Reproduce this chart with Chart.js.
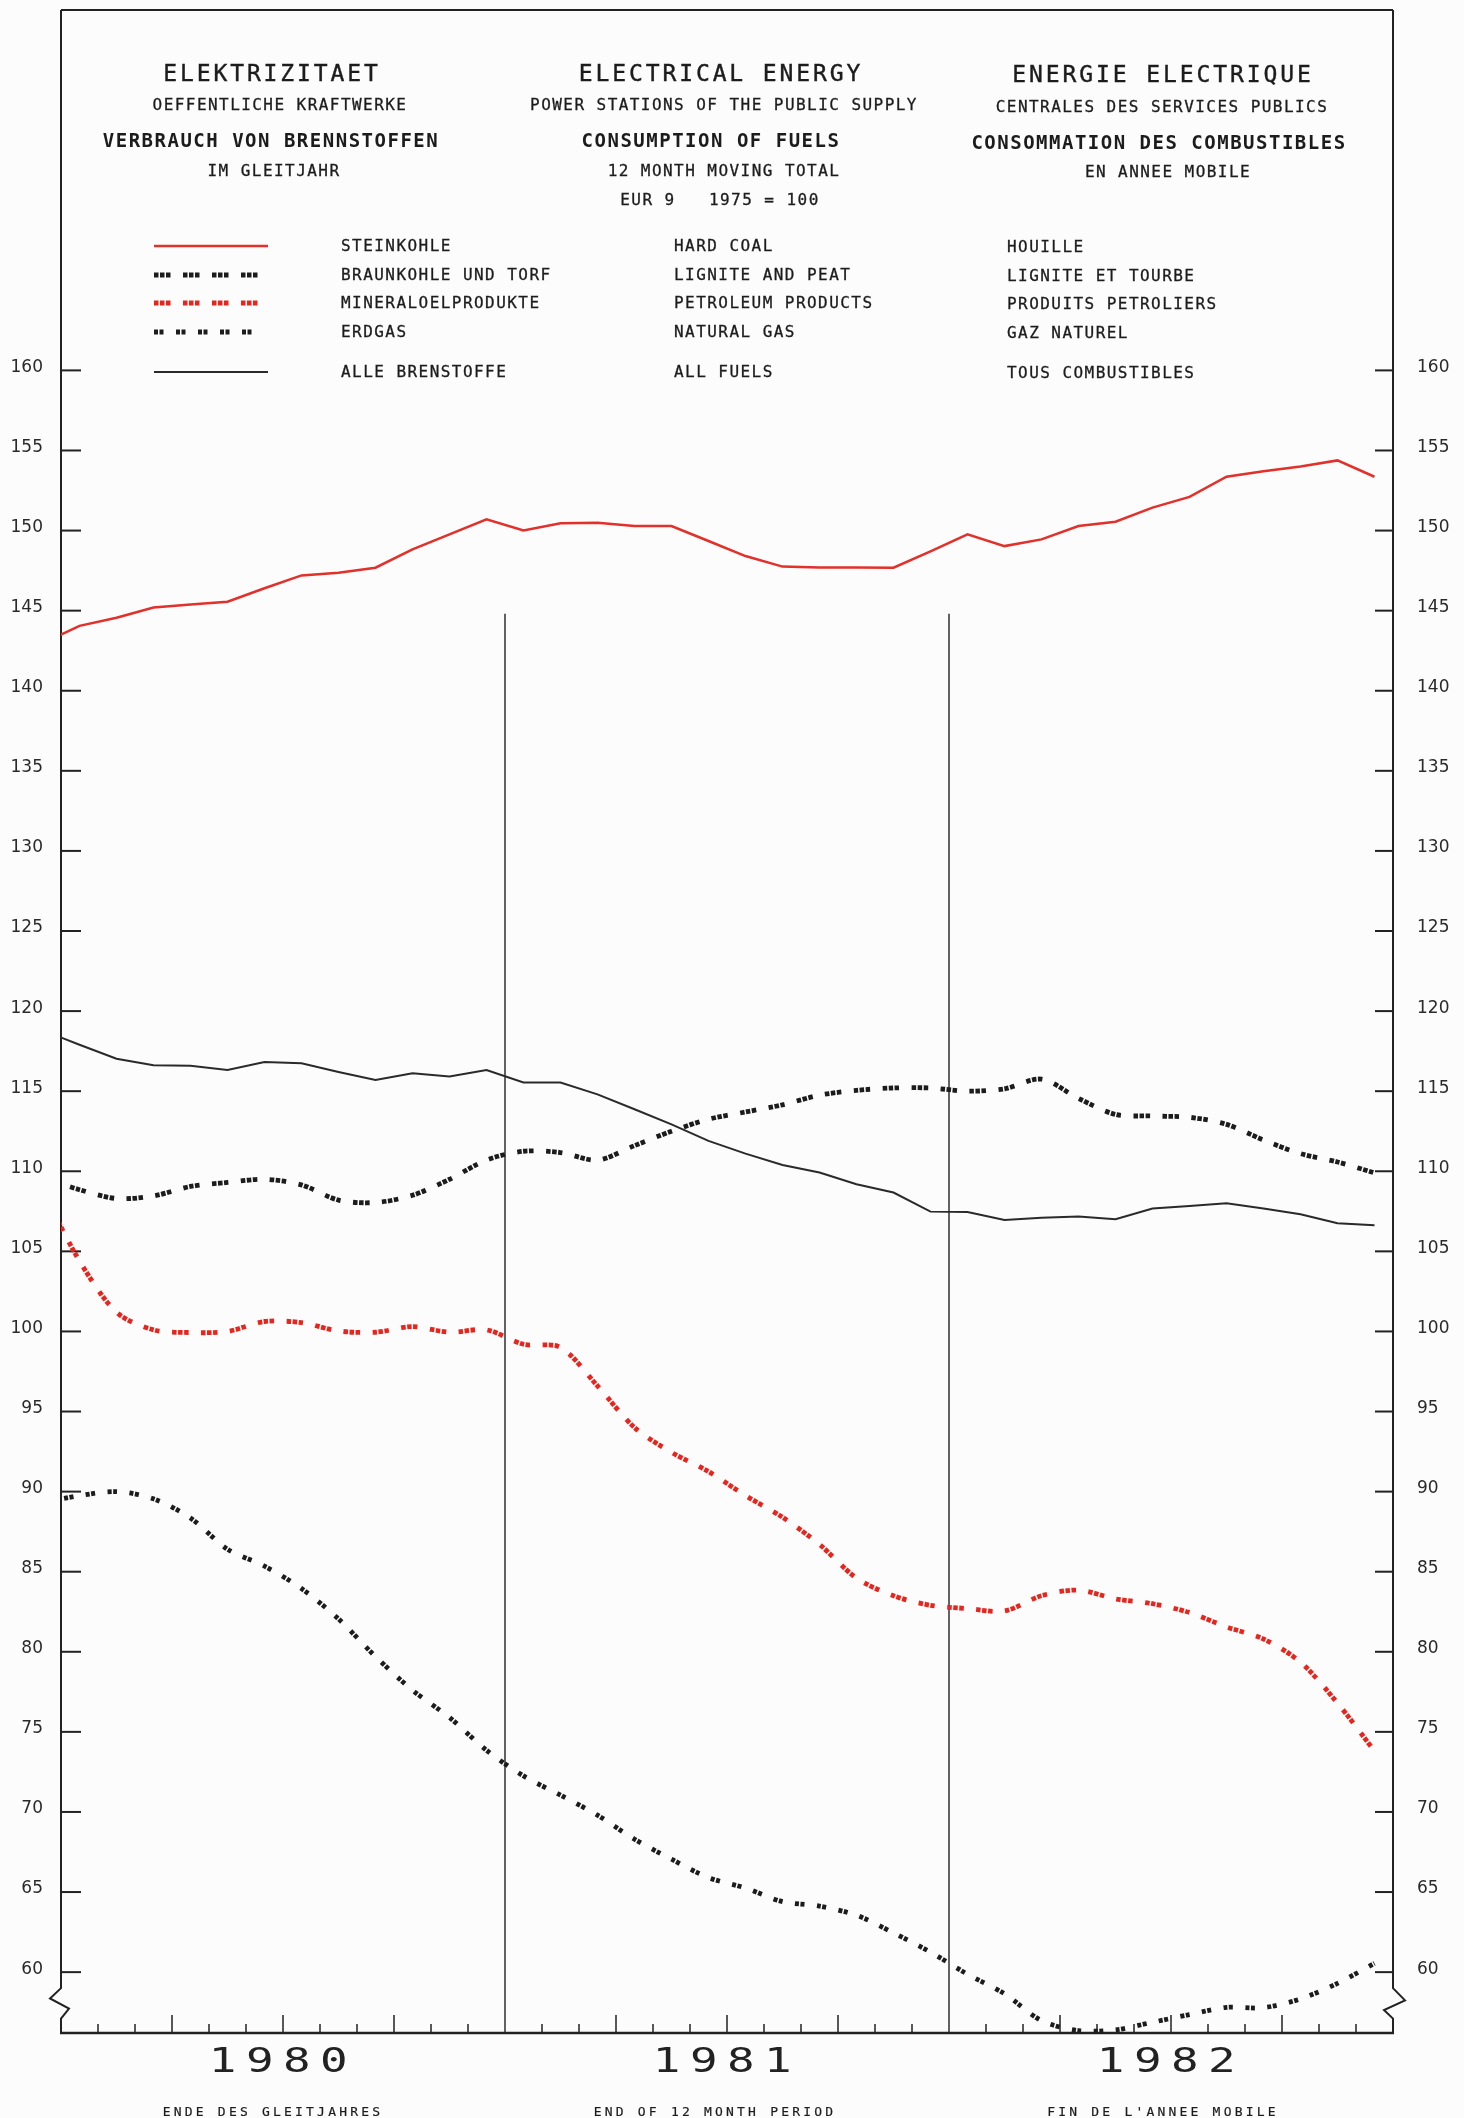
<!DOCTYPE html>
<html>
<head>
<meta charset="utf-8">
<script src="https://cdn.jsdelivr.net/npm/chart.js@4.4.1/dist/chart.umd.min.js"></script>
<style>
  html,body{margin:0;padding:0;background:#fcfcfc;}
  #wrap{position:relative;width:1464px;height:2118px;overflow:hidden;}
  canvas{position:absolute;left:0;top:0;}
  .t{position:absolute;white-space:pre;font-family:'DejaVu Sans Mono',monospace;color:#1c1c1c;line-height:1;transform:translate(-50%,-50%);}
  .l{transform:translate(0,-50%);}
  .s16{font-size:16px;letter-spacing:1.45px;-webkit-text-stroke:0.3px #1c1c1c;}
  .s23{font-size:23px;letter-spacing:2.9px;-webkit-text-stroke:0.4px #1c1c1c;}
  .b19{font-size:19px;font-weight:bold;letter-spacing:1.5px;}
  .s11{font-size:13px;letter-spacing:3.2px;-webkit-text-stroke:0.2px #1c1c1c;}
  .yr{font-size:34px;letter-spacing:7px;transform:translate(-50%,-50%) scaleX(1.35);color:#222;}
</style>
</head>
<body>
<div id="wrap">
<canvas id="c" width="1464" height="2118"></canvas>

<div class="t s23" style="left:272px;top:73px">ELEKTRIZITAET</div>
<div class="t s23" style="left:721px;top:73px">ELECTRICAL ENERGY</div>
<div class="t s23" style="left:1163px;top:74px">ENERGIE ELECTRIQUE</div>

<div class="t s16" style="left:280px;top:105px">OEFFENTLICHE KRAFTWERKE</div>
<div class="t s16" style="left:724px;top:105px">POWER STATIONS OF THE PUBLIC SUPPLY</div>
<div class="t s16" style="left:1162px;top:107px">CENTRALES DES SERVICES PUBLICS</div>

<div class="t b19" style="left:271px;top:140px">VERBRAUCH VON BRENNSTOFFEN</div>
<div class="t b19" style="left:711px;top:140px">CONSUMPTION OF FUELS</div>
<div class="t b19" style="left:1159px;top:142px">CONSOMMATION DES COMBUSTIBLES</div>

<div class="t s16" style="left:274px;top:171px">IM GLEITJAHR</div>
<div class="t s16" style="left:724px;top:171px">12 MONTH MOVING TOTAL</div>
<div class="t s16" style="left:1168px;top:172px">EN ANNEE MOBILE</div>

<div class="t s16" style="left:720px;top:200px">EUR 9   1975 = 100</div>

<div class="t s16 l" style="left:341px;top:246px">STEINKOHLE</div>
<div class="t s16 l" style="left:674px;top:246px">HARD COAL</div>
<div class="t s16 l" style="left:1007px;top:247px">HOUILLE</div>

<div class="t s16 l" style="left:341px;top:275px">BRAUNKOHLE UND TORF</div>
<div class="t s16 l" style="left:674px;top:275px">LIGNITE AND PEAT</div>
<div class="t s16 l" style="left:1007px;top:276px">LIGNITE ET TOURBE</div>

<div class="t s16 l" style="left:341px;top:303px">MINERALOELPRODUKTE</div>
<div class="t s16 l" style="left:674px;top:303px">PETROLEUM PRODUCTS</div>
<div class="t s16 l" style="left:1007px;top:304px">PRODUITS PETROLIERS</div>

<div class="t s16 l" style="left:341px;top:332px">ERDGAS</div>
<div class="t s16 l" style="left:674px;top:332px">NATURAL GAS</div>
<div class="t s16 l" style="left:1007px;top:333px">GAZ NATUREL</div>

<div class="t s16 l" style="left:341px;top:372px">ALLE BRENSTOFFE</div>
<div class="t s16 l" style="left:674px;top:372px">ALL FUELS</div>
<div class="t s16 l" style="left:1007px;top:373px">TOUS COMBUSTIBLES</div>

<div class="t s11" style="left:273px;top:2111px">ENDE DES GLEITJAHRES</div>
<div class="t s11" style="left:715px;top:2111px">END OF 12 MONTH PERIOD</div>
<div class="t s11" style="left:1163px;top:2111px">FIN DE L'ANNEE MOBILE</div>
</div>

<script>
// ---------------- DATA ----------------
// index 0 = Dec 1979 (partly outside the frame), then Jan 1980 ... Dec 1982
const months = [
  '1979-12',
  '1980-01','1980-02','1980-03','1980-04','1980-05','1980-06','1980-07','1980-08','1980-09','1980-10','1980-11','1980-12',
  '1981-01','1981-02','1981-03','1981-04','1981-05','1981-06','1981-07','1981-08','1981-09','1981-10','1981-11','1981-12',
  '1982-01','1982-02','1982-03','1982-04','1982-05','1982-06','1982-07','1982-08','1982-09','1982-10','1982-11','1982-12'
];
const years = ['1980', '1981', '1982'];

const hardCoal = [142.95,
  144.05,144.56,145.2,145.38,145.56,146.4,147.2,147.37,147.68,148.83,149.76,150.7,
  150.01,150.45,150.49,150.28,150.28,149.35,148.41,147.75,147.7,147.7,147.68,148.7,
  149.76,149.03,149.45,150.28,150.55,151.43,152.1,153.36,153.7,154.0,154.38,153.36];

const lignite = [109.6,
  108.85,108.3,108.46,109.05,109.3,109.5,109.15,108.2,108.05,108.5,109.5,110.7,
  111.25,111.17,110.7,111.6,112.5,113.25,113.7,114.15,114.75,115.05,115.2,115.2,
  115.0,115.15,115.75,114.55,113.55,113.45,113.37,112.93,111.95,111.1,110.58,109.9];

const petroleum = [108.8,
  104.4,101.2,100.1,99.93,100.0,100.62,100.55,100.03,99.95,100.3,99.95,100.1,
  99.2,99.0,96.6,94.0,92.45,91.25,89.75,88.4,86.7,84.6,83.5,82.9,
  82.7,82.55,83.5,83.85,83.3,83.0,82.45,81.55,80.8,79.35,76.8,73.8];

const naturalGas = [89.3,
  89.75,90.0,89.55,88.35,86.4,85.35,83.95,82.05,79.7,77.6,75.9,73.85,
  72.25,71.05,69.8,68.3,67.05,65.9,65.25,64.4,64.12,63.55,62.45,61.25,
  59.87,58.65,56.97,56.35,56.4,56.87,57.35,57.8,57.78,58.33,59.3,60.55];

const allFuels = [118.8,
  117.9,117.03,116.62,116.58,116.32,116.82,116.74,116.2,115.7,116.12,115.91,116.32,
  115.54,115.54,114.8,113.87,112.93,111.9,111.1,110.39,109.92,109.19,108.67,107.48,
  107.45,106.96,107.1,107.17,107.0,107.67,107.83,108.0,107.67,107.31,106.75,106.63];

const yTickValues = [60,65,70,75,80,85,90,95,100,105,110,115,120,125,130,135,140,145,150,155,160];
const seriesNames = ['STEINKOHLE','BRAUNKOHLE UND TORF','MINERALOELPRODUKTE','ERDGAS','ALLE BRENSTOFFE'];

// ---------------- STYLE ----------------
const RED = '#e2302a';
const RED2 = '#e8251d';
const BLACK = '#1c1c1c';
const AXIS = '#222222';
const Y_MIN = 56.2, Y_MAX = 182.5;

function pts(arr){ return arr.map((v,i)=>({x: i - 0.5, y: v})); }
const clip = {left:0, top:0, right:0, bottom:4};

const datasets = [
  {label: seriesNames[0], data: pts(hardCoal), borderColor: RED, borderWidth: 2.5, tension: 0, legendY: 246, legendEnd: 268},
  {label: seriesNames[1], data: pts(lignite), borderColor: BLACK, borderWidth: 4.8, borderDash: [4.5,1.5,4.5,1.5,4.5,12.5], tension: 0.3, legendY: 275, legendEnd: 262},
  {label: seriesNames[2], data: pts(petroleum), borderColor: RED2, borderWidth: 4.8, borderDash: [4.5,1.5,4.5,1.5,4.5,12.5], tension: 0.3, legendY: 303, legendEnd: 262},
  {label: seriesNames[3], data: pts(naturalGas), borderColor: BLACK, borderWidth: 4.8, borderDash: [4,1.5,4,12.5], tension: 0.3, legendY: 332, legendEnd: 259},
  {label: seriesNames[4], data: pts(allFuels), borderColor: '#2a2a2a', borderWidth: 2, tension: 0, legendY: 372, legendEnd: 268}
].map(d => Object.assign({pointRadius: 0, fill: false, clip: clip, borderCapStyle: 'butt'}, d));

function seg(ctx, x1, y1, x2, y2){ ctx.beginPath(); ctx.moveTo(x1,y1); ctx.lineTo(x2,y2); ctx.stroke(); }

const decor = {
  id: 'decor',
  beforeDatasetsDraw(chart){
    const {ctx, chartArea: a, scales} = chart;
    const x = scales.x, y = scales.y;
    ctx.save();
    ctx.strokeStyle = AXIS;
    ctx.lineCap = 'butt';
    // frame top & bottom
    ctx.lineWidth = 2;
    seg(ctx, a.left, a.top, a.right, a.top);
    ctx.lineWidth = 2.5;
    seg(ctx, a.left - 1, a.bottom, a.right + 1, a.bottom);
    // side axes with scale break
    const yb1 = y.getPixelForValue(59.0), yb2 = y.getPixelForValue(57.1), h = yb2 - yb1;
    ctx.lineWidth = 2;
    ctx.beginPath();
    ctx.moveTo(a.left, a.top); ctx.lineTo(a.left, yb1);
    ctx.lineTo(a.left - 11, yb1 + h*0.34); ctx.lineTo(a.left + 8, yb1 + h*0.67);
    ctx.lineTo(a.left, yb2); ctx.lineTo(a.left, a.bottom);
    ctx.stroke();
    ctx.beginPath();
    ctx.moveTo(a.right, a.top); ctx.lineTo(a.right, yb1);
    ctx.lineTo(a.right + 12, yb1 + h*0.4); ctx.lineTo(a.right - 9, yb1 + h*0.72);
    ctx.lineTo(a.right, yb2); ctx.lineTo(a.right, a.bottom);
    ctx.stroke();
    // y tick marks (inside)
    ctx.lineWidth = 2;
    y.ticks.forEach(t => {
      const py = y.getPixelForValue(t.value);
      seg(ctx, a.left, py, a.left + 20, py);
      seg(ctx, a.right - 18, py, a.right, py);
    });
    // month ticks on the time axis
    ctx.lineWidth = 1.5;
    for (let m = 1; m < 36; m++) {
      if (m % 12 === 0) continue;
      const px = x.getPixelForValue(m);
      const len = (m % 3 === 0) ? 18 : 9;
      seg(ctx, px, a.bottom, px, a.bottom - len);
    }
    // year separators
    ctx.lineWidth = 1.4;
    [12, 24].forEach(m => {
      const px = x.getPixelForValue(m);
      seg(ctx, px, a.bottom, px, y.getPixelForValue(144.8));
    });
    // legend samples, styled from the datasets
    chart.data.datasets.forEach(ds => {
      ctx.save();
      ctx.strokeStyle = ds.borderColor;
      ctx.lineWidth = ds.borderWidth;
      ctx.setLineDash(ds.borderDash || []);
      seg(ctx, 154, ds.legendY, ds.legendEnd, ds.legendY);
      ctx.restore();
    });
    ctx.restore();
  }
};

function noPad(s){ s.paddingTop = 0; s.paddingBottom = 0; s.paddingLeft = 0; s.paddingRight = 0; }

const chart = new Chart(document.getElementById('c'), {
  type: 'line',
  data: { datasets },
  options: {
    responsive: false,
    animation: false,
    devicePixelRatio: 1,
    layout: { padding: {top: 10, left: 0, right: 0, bottom: 0}, autoPadding: false },
    plugins: { legend: {display: false}, tooltip: {enabled: false} },
    scales: {
      x: {
        type: 'linear', min: 0, max: 36,
        grid: {display: false, drawTicks: false},
        border: {display: false},
        ticks: {display: false},
        afterFit: s => { s.height = 85; noPad(s); }
      },
      y: {
        type: 'linear', position: 'left', min: Y_MIN, max: Y_MAX,
        grid: {display: false, drawTicks: false},
        border: {display: false},
        afterBuildTicks: s => { s.ticks = yTickValues.map(v => ({value: v})); },
        ticks: {padding: 18, labelOffset: -3, color: '#2a2a2a', font: {family: 'DejaVu Sans', size: 17}},
        afterFit: s => { s.width = 61; noPad(s); }
      },
      y2: {
        type: 'linear', position: 'right', min: Y_MIN, max: Y_MAX,
        grid: {display: false, drawTicks: false},
        border: {display: false},
        afterBuildTicks: s => { s.ticks = yTickValues.map(v => ({value: v})); },
        ticks: {padding: 24, labelOffset: -3, color: '#2a2a2a', font: {family: 'DejaVu Sans', size: 17}},
        afterFit: s => { s.width = 71; noPad(s); }
      }
    }
  },
  plugins: [decor]
});

// year labels placed at the middle of each year on the chart's x scale
const wrap = document.getElementById('wrap');
years.forEach((yr, k) => {
  const d = document.createElement('div');
  d.className = 't yr';
  d.textContent = yr;
  d.style.left = chart.scales.x.getPixelForValue(12 * k + 6) + 'px';
  d.style.top = '2060px';
  wrap.appendChild(d);
});
</script>
</body>
</html>
